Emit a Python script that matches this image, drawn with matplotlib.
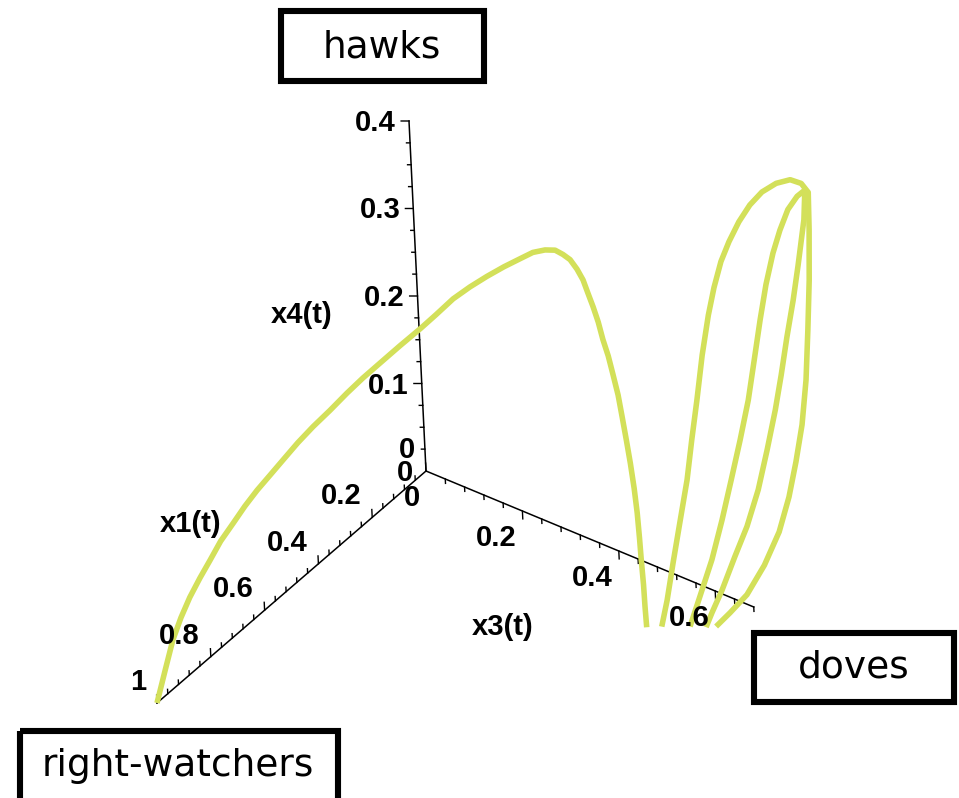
import numpy as np
import matplotlib.pyplot as plt
from matplotlib.patches import Rectangle

# Trajectory of the population shares, x1 = right-watchers, x3 = doves, x4 = hawks.
# First piece: from the all right-watchers corner over the hawk peak down to the doves side.
arc_x1 = [1.000, 0.968, 0.939, 0.915, 0.890, 0.864, 0.840, 0.814, 0.786, 0.760,
          0.734, 0.708, 0.681, 0.651, 0.621, 0.588, 0.555, 0.524, 0.493, 0.456,
          0.419, 0.389, 0.357, 0.327, 0.298, 0.270, 0.244, 0.223, 0.206, 0.192,
          0.185, 0.179, 0.176, 0.175, 0.177, 0.179, 0.182, 0.187, 0.191, 0.196,
          0.203, 0.211, 0.220, 0.230, 0.241, 0.253, 0.266, 0.277, 0.290, 0.302,
          0.313]
arc_x3 = [0.000, 0.002, 0.004, 0.009, 0.015, 0.023, 0.032, 0.041, 0.053, 0.064,
          0.076, 0.089, 0.103, 0.118, 0.134, 0.152, 0.170, 0.187, 0.206, 0.228,
          0.251, 0.268, 0.287, 0.306, 0.326, 0.346, 0.366, 0.381, 0.397, 0.410,
          0.422, 0.433, 0.445, 0.456, 0.466, 0.477, 0.488, 0.499, 0.511, 0.522,
          0.535, 0.546, 0.558, 0.570, 0.582, 0.593, 0.603, 0.611, 0.621, 0.629,
          0.637]
arc_x4 = [0.000, 0.030, 0.057, 0.077, 0.095, 0.112, 0.128, 0.145, 0.161, 0.176,
          0.190, 0.203, 0.217, 0.232, 0.246, 0.260, 0.275, 0.288, 0.301, 0.316,
          0.331, 0.343, 0.357, 0.367, 0.376, 0.384, 0.391, 0.396, 0.398, 0.397,
          0.393, 0.388, 0.379, 0.369, 0.357, 0.344, 0.330, 0.314, 0.299, 0.282,
          0.263, 0.243, 0.221, 0.200, 0.177, 0.155, 0.132, 0.112, 0.089, 0.069,
          0.050]

# Outer hawk/dove loop
outer_x1 = [0.293, 0.269, 0.238, 0.203, 0.167, 0.135, 0.103, 0.068, 0.034, 0.009,
            0.0, 0.0, 0.0, 0.0, 0.0, 0.0, 0.0, 0.0, 0.0,
            0.0, 0.0, 0.0, 0.0, 0.0, 0.013, 0.044, 0.080, 0.120, 0.162,
            0.195, 0.222]
outer_x3 = [0.657, 0.657, 0.655, 0.653, 0.651, 0.646, 0.642, 0.637, 0.634, 0.634,
            0.646, 0.665, 0.688, 0.713, 0.740, 0.771, 0.801, 0.824, 0.838,
            0.836, 0.831, 0.823, 0.814, 0.801, 0.792, 0.792, 0.789, 0.778, 0.763,
            0.745, 0.730]
outer_x4 = [0.050, 0.074, 0.108, 0.145, 0.183, 0.219, 0.255, 0.296, 0.332, 0.357,
            0.387, 0.414, 0.442, 0.467, 0.488, 0.505, 0.516, 0.517, 0.510,
            0.467, 0.408, 0.349, 0.290, 0.236, 0.195, 0.163, 0.132, 0.102, 0.076,
            0.060, 0.048]

# Inner hawk/dove loop
inner_x1 = [0.256, 0.224, 0.185, 0.147, 0.109, 0.072, 0.036, 0.003,
            0.0, 0.0, 0.0, 0.0, 0.0, 0.0, 0.0,
            0.0, 0.0, 0.0, 0.0, 0.0, 0.007, 0.043, 0.080, 0.118, 0.153,
            0.191, 0.219, 0.236]
inner_x3 = [0.695, 0.700, 0.706, 0.709, 0.710, 0.711, 0.711, 0.708,
            0.723, 0.739, 0.757, 0.774, 0.793, 0.814, 0.831,
            0.826, 0.809, 0.795, 0.778, 0.762, 0.750, 0.750, 0.749, 0.744, 0.736,
            0.728, 0.721, 0.717]
inner_x4 = [0.049, 0.076, 0.109, 0.145, 0.181, 0.217, 0.253, 0.289,
            0.338, 0.382, 0.422, 0.452, 0.480, 0.500, 0.511,
            0.476, 0.420, 0.377, 0.331, 0.284, 0.243, 0.207, 0.171, 0.138, 0.111,
            0.081, 0.061, 0.048]

# axis ranges and labelled ticks
x1_range = (0.0, 1.0)
x3_range = (0.0, 0.68)
x4_range = (0.0, 0.4)
x1_ticks = [0, 0.2, 0.4, 0.6, 0.8, 1]
x3_ticks = [0, 0.2, 0.4, 0.6]
x4_ticks = [0, 0.1, 0.2, 0.3, 0.4]

# oblique view: screen position of the origin and of one unit along each axis
ORIGIN = np.array([426.0, 471.0])
E1 = np.array([-269.0, 232.0])
E3 = np.array([482.0, 200.0])
E4 = np.array([-42.5, -875.0])

CURVE = '#d3e05a'
TICK_FONT = dict(family=['Liberation Sans', 'DejaVu Sans'], weight='bold', size=21,
                 zorder=5)


def project(x1, x3, x4):
    x1, x3, x4 = (np.asarray(v, dtype=float) for v in (x1, x3, x4))
    px = ORIGIN[0] + x1 * E1[0] + x3 * E3[0] + x4 * E4[0]
    py = ORIGIN[1] + x1 * E1[1] + x3 * E3[1] + x4 * E4[1]
    return px, py


def fmt(v):
    return '0' if v == 0 else ('1' if v == 1 else f'{v:g}')


fig = plt.figure(figsize=(9.59, 7.98), dpi=100)
ax = fig.add_axes([0, 0, 1, 1])
ax.set_xlim(0, 959)
ax.set_ylim(798, 0)
ax.axis('off')

# axis lines
for a, b in [((x1_range[0], 0, 0), (x1_range[1], 0, 0)),
             ((0, x3_range[0], 0), (0, x3_range[1], 0)),
             ((0, 0, x4_range[0]), (0, 0, x4_range[1]))]:
    px, py = project(*zip(a, b))
    ax.plot(px, py, color='black', lw=1.1, zorder=2)

# tick marks: x1 ticks point up, x3 ticks hang down, x4 ticks point left
for v in np.arange(0, 1.0001, 0.04):
    major = abs(v / 0.2 - round(v / 0.2)) < 1e-6
    t = 0.009 if major else 0.005
    px, py = project([v, v], [0, 0], [0, t])
    ax.plot(px, py, color='black', lw=1.0, zorder=2)
for v in np.arange(0.04, 0.6801, 0.04):
    major = abs(v / 0.2 - round(v / 0.2)) < 1e-6
    t = 0.009 if major else 0.005
    px, py = project([0, 0], [v, v], [0, -t])
    ax.plot(px, py, color='black', lw=1.0, zorder=2)
for v in np.arange(0.025, 0.4001, 0.025):
    major = abs(v / 0.1 - round(v / 0.1)) < 1e-6
    t = 0.011 if major else 0.005
    px, py = project([0, 0.86 * t], [0, -t], [v, v])
    ax.plot(px, py, color='black', lw=1.0, zorder=2)

# tick labels
for v in x1_ticks:
    px, py = project(v, 0, 0)
    ax.annotate(fmt(v), (px, py), xytext=(-11, 21), textcoords='offset pixels',
                ha='right', va='center', **TICK_FONT)
for v in x3_ticks:
    px, py = project(0, v, 0)
    ax.annotate(fmt(v), (px, py), xytext=(-6, -27), textcoords='offset pixels',
                ha='right', va='center', **TICK_FONT)
for v in x4_ticks:
    px, py = project(0, 0, v)
    ax.annotate(fmt(v), (px, py), xytext=(-13, -2), textcoords='offset pixels',
                ha='right', va='center', **TICK_FONT)

ax.text(302, 315, 'x4(t)', ha='center', va='center', **TICK_FONT)
ax.text(191, 524, 'x1(t)', ha='center', va='center', **TICK_FONT)
ax.text(503, 627, 'x3(t)', ha='center', va='center', **TICK_FONT)

# the trajectory
for xs in [(arc_x1, arc_x3, arc_x4),
           (outer_x1, outer_x3, outer_x4),
           (inner_x1, inner_x3, inner_x4)]:
    px, py = project(*xs)
    ax.plot(px, py, color=CURVE, lw=4.0, solid_joinstyle='round',
            solid_capstyle='butt', zorder=3)

# strategy name boxes
boxes = [('hawks', 281, 11, 203, 70, 382, 47),
         ('doves', 754, 633, 200, 69, 854, 668),
         ('right-watchers', 20, 731, 318, 70, 178, 766)]
for name, bx, by, bw, bh, tx, ty in boxes:
    ax.add_patch(Rectangle((bx, by), bw, bh, fill=False, edgecolor='black',
                           lw=4.4, joinstyle='miter', zorder=4))
    ax.text(tx, ty, name, ha='center', va='center', fontsize=27,
            family='DejaVu Sans', zorder=5)

fig.savefig('out.png', dpi=100, facecolor='white')
